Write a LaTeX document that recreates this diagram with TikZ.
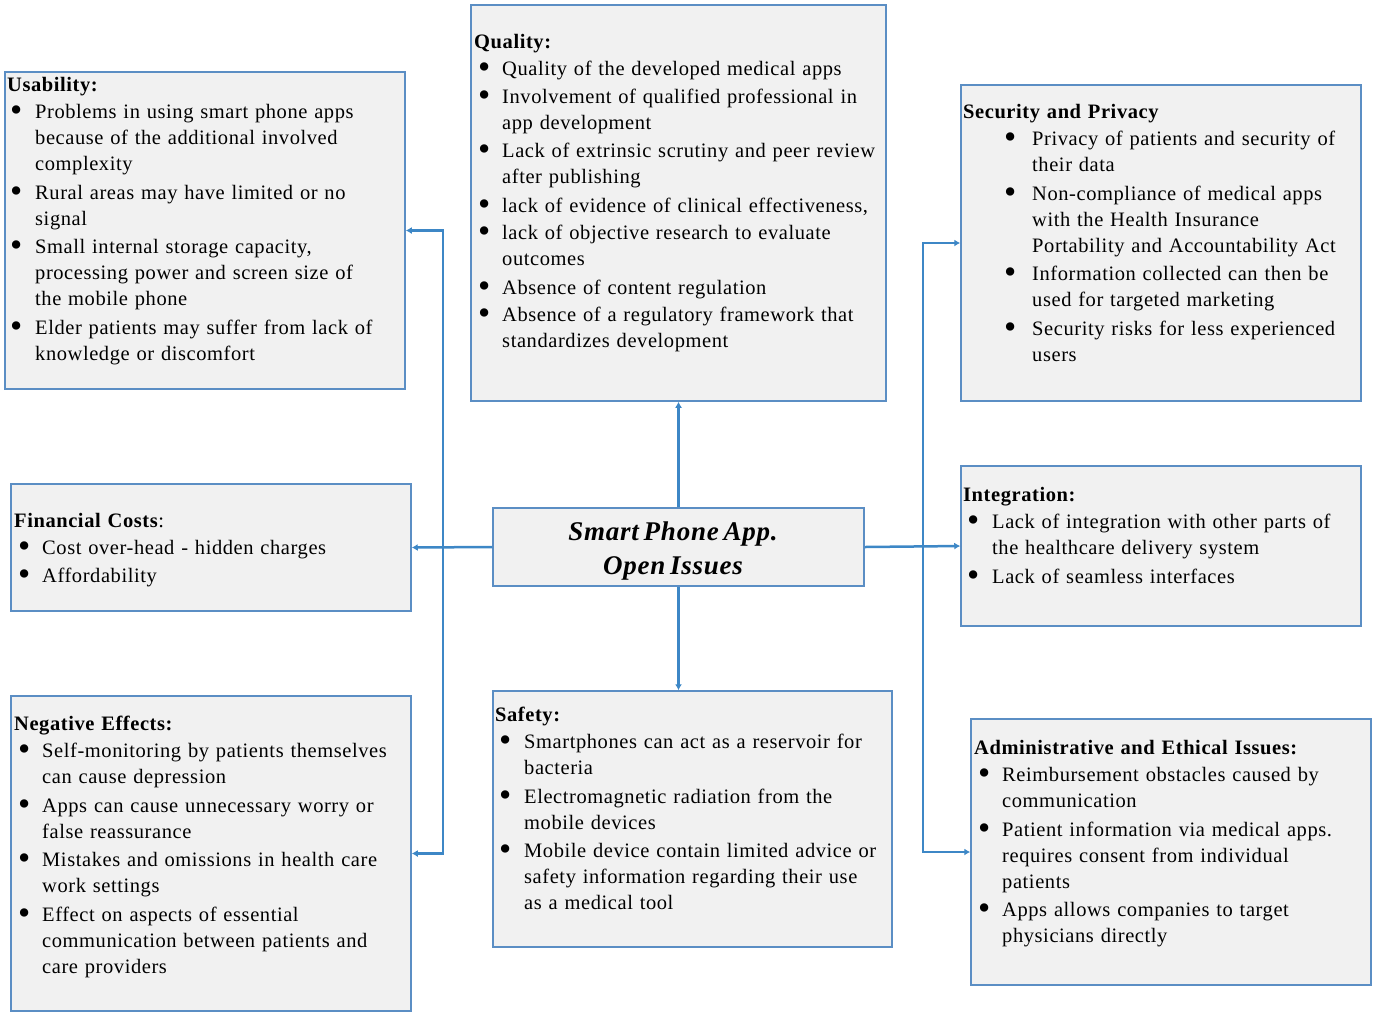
\documentclass[tikz,border=0pt]{standalone}
\usepackage{fontspec}
\setmainfont{Liberation Serif}[LetterSpace=2.8, WordSpace=0.65]
\usetikzlibrary{arrows.meta}

\definecolor{boxfill}{HTML}{F1F1F1}
\definecolor{boxline}{HTML}{5B8EC4}
\definecolor{linkblue}{HTML}{3D87C6}

\newlength{\bulx}
\newlength{\txtx}
\newcommand{\bdot}{\raisebox{-3pt}[0pt][0pt]{\scalebox{1.7}{\textbullet}}}
\newcommand{\bitem}[1]{\par\noindent\makebox[\txtx][l]{\hspace*{\bulx}\bdot}\begin{tabular}[t]{@{}l@{}}#1\end{tabular}}
\newcommand{\btitle}[3]{\setlength{\parskip}{1.5pt}\setlength{\lineskiplimit}{-2pt}\setlength{\bulx}{#1}\setlength{\txtx}{#2}\noindent#3}

\tikzset{
    box/.style={draw=boxline, line width=1.5pt, fill=boxfill, inner sep=0pt},
    txt/.style={anchor=base west, inner sep=0pt, align=left, font=\fontsize{20.5}{26}\selectfont},
    conn/.style={draw=linkblue, line width=2.5pt, -{Latex[length=6pt,width=7pt]}}
}

\begin{document}
\begin{tikzpicture}[x=1pt, y=-1pt]
    \useasboundingbox (0,0) rectangle (1375,1013);

    % boxes
    \node[box, minimum width=371pt, minimum height=78pt] (ctr) at (678.5,547) {};
    \node[box, minimum width=400pt, minimum height=317pt] (usab) at (205,230.5) {};
    \node[box, minimum width=415pt, minimum height=396pt] (qual) at (678.5,203) {};
    \node[box, minimum width=400pt, minimum height=316pt] (sec) at (1161,243) {};
    \node[box, minimum width=400pt, minimum height=127pt] (fin) at (211,547.5) {};
    \node[box, minimum width=400pt, minimum height=160pt] (integ) at (1161,546) {};
    \node[box, minimum width=400pt, minimum height=315pt] (neg) at (211,853.5) {};
    \node[box, minimum width=399pt, minimum height=256pt] (safe) at (692.5,819) {};
    \node[box, minimum width=400pt, minimum height=266pt] (adm) at (1171,852) {};

    % texts
    \node[align=center, inner sep=0pt, font=\fontsize{27}{34}\selectfont\bfseries\itshape]
        (ctrtxt) at (673,551) {Smart Phone App.\\Open Issues};
    \node[txt, text width=394pt] (usabtxt) at (7,91) {\btitle{3pt}{28pt}{\textbf{Usability:}}
        \bitem{Problems in using smart phone apps\\because of the additional involved\\complexity}
        \bitem{Rural areas may have limited or no\\signal}
        \bitem{Small internal storage capacity,\\processing power and screen size of\\the mobile phone}
        \bitem{Elder patients may suffer from lack of\\knowledge or discomfort}};
    \node[txt, text width=408pt] (qualtxt) at (474,48) {\btitle{4pt}{28pt}{\textbf{Quality:}}
        \bitem{Quality of the developed medical apps}
        \bitem{Involvement of qualified professional in\\app development}
        \bitem{Lack of extrinsic scrutiny and peer review\\after publishing}
        \bitem{lack of evidence of clinical effectiveness,}
        \bitem{lack of objective research to evaluate\\outcomes}
        \bitem{Absence of content regulation}
        \bitem{Absence of a regulatory framework that\\standardizes development}};
    \node[txt, text width=394pt] (sectxt) at (963,118) {\btitle{41pt}{69pt}{\textbf{Security and Privacy}}
        \bitem{Privacy of patients and security of\\their data}
        \bitem{Non-compliance of medical apps\\with the Health Insurance\\Portability and Accountability Act}
        \bitem{Information collected can then be\\used for targeted marketing}
        \bitem{Security risks for less experienced\\users}};
    \node[txt, text width=394pt] (fintxt) at (14,527) {\btitle{4pt}{28pt}{\textbf{Financial Costs}:}
        \bitem{Cost over-head - hidden charges}
        \bitem{Affordability}};
    \node[txt, text width=394pt] (integtxt) at (963,501) {\btitle{4pt}{29pt}{\textbf{Integration:}}
        \bitem{Lack of integration with other parts of\\the healthcare delivery system}
        \bitem{Lack of seamless interfaces}};
    \node[txt, text width=394pt] (negtxt) at (14,730) {\btitle{4pt}{28pt}{\textbf{Negative Effects:}}
        \bitem{Self-monitoring by patients themselves\\can cause depression}
        \bitem{Apps can cause unnecessary worry or\\false reassurance}
        \bitem{Mistakes and omissions in health care\\work settings}
        \bitem{Effect on aspects of essential\\communication between patients and\\care providers}};
    \node[txt, text width=394pt] (safetxt) at (495,721) {\btitle{4pt}{29pt}{\textbf{Safety:}}
        \bitem{Smartphones can act as a reservoir for\\bacteria}
        \bitem{Electromagnetic radiation from the\\mobile devices}
        \bitem{Mobile device contain limited advice or\\safety information regarding their use\\as a medical tool}};
    \node[txt, text width=394pt] (admtxt) at (974,754) {\btitle{4pt}{28pt}{\textbf{Administrative and Ethical Issues:}}
        \bitem{Reimbursement obstacles caused by\\communication}
        \bitem{Patient information via medical apps.\\requires consent from individual\\patients}
        \bitem{Apps allows companies to target\\physicians directly}};

    % connectors
    \coordinate (lt) at (443,547);
    \coordinate (rt) at (923,546);
    \draw[conn] (ctr.north) -- (qual.south);
    \draw[conn] (ctr.south) -- (ctr.south |- safe.north);
    \draw[conn] (ctr.west) -- (fin.east);
    \draw[conn] (ctr.east) -- (integ.west);
    \draw[conn] (lt) |- (usab.east);
    \draw[conn] (lt) |- (neg.east);
    \draw[conn] (rt) |- (sec.west);
    \draw[conn] (rt) |- (adm.west);
\end{tikzpicture}
\end{document}
